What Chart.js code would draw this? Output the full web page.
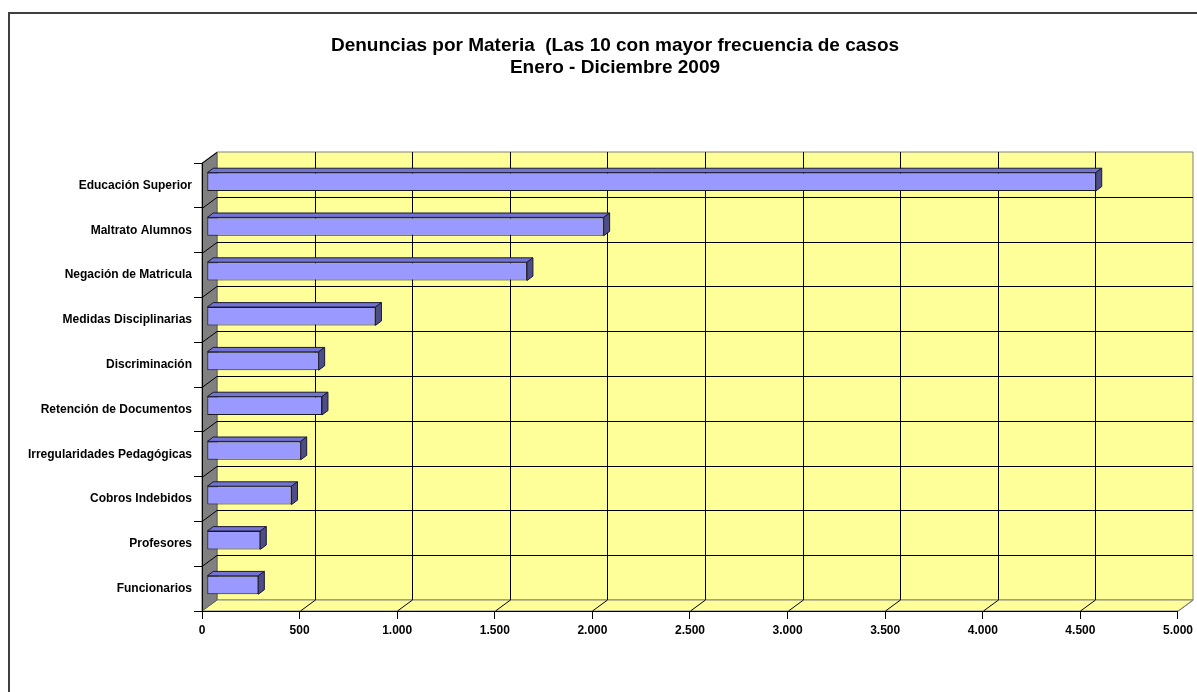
<!DOCTYPE html>
<html>
<head>
<meta charset="utf-8">
<script src="https://cdn.jsdelivr.net/npm/chart.js@4/dist/chart.umd.min.js"></script>
<style>
  html, body { margin: 0; padding: 0; background: #fff; }
  #wrap { width: 1197px; height: 692px; position: relative; }
</style>
</head>
<body>
<div id="wrap"><canvas id="myChart"></canvas></div>
<script>
// data
const materias = [
  'Educación Superior',
  'Maltrato Alumnos',
  'Negación de Matricula',
  'Medidas Disciplinarias',
  'Discriminación',
  'Retención de Documentos',
  'Irregularidades Pedagógicas',
  'Cobros Indebidos',
  'Profesores',
  'Funcionarios'
]
const denuncias = [4554, 2033, 1640, 864, 573, 590, 481, 434, 274, 264]
const tituloLineas = [
  'Denuncias por Materia  (Las 10 con mayor frecuencia de casos',
  'Enero - Diciembre 2009'
]
const ejeMin = 0
const ejeMax = 5000
const ejePaso = 500

// 3d look: wall depth and bar depth (oblique offsets)
const WX = 15, WY = -11
const FX = 4.8, FY = -3.6
const BX = 6, BY = -4.4
// title is centred a bit right of the canvas middle
const TITLE_SHIFT = 51

const FONT = "'Liberation Sans', Arial, sans-serif"

const fmt = (v) => String(v).replace(/\B(?=(\d{3})+(?!\d))/g, '.')

function line(ctx, x1, y1, x2, y2) {
  ctx.beginPath()
  ctx.moveTo(x1, y1)
  ctx.lineTo(x2, y2)
  ctx.stroke()
}

function poly(ctx, pts, fill, stroke) {
  ctx.beginPath()
  ctx.moveTo(pts[0][0], pts[0][1])
  for (let i = 1; i < pts.length; i++) ctx.lineTo(pts[i][0], pts[i][1])
  ctx.closePath()
  ctx.fillStyle = fill
  ctx.fill()
  if (stroke) {
    ctx.strokeStyle = stroke
    ctx.stroke()
  }
}

const walls3d = {
  id: 'walls3d',
  afterLayout(chart) {
    if (chart.titleBlock) chart.titleBlock.left += TITLE_SHIFT
  },
  beforeDraw(chart) {
    const {ctx, chartArea: a, scales} = chart
    const xs = scales.x, ys = scales.y
    ctx.save()
    ctx.fillStyle = '#fff'
    ctx.fillRect(0, 0, chart.width, chart.height)

    // outer frame
    ctx.strokeStyle = '#404040'
    ctx.lineWidth = 2
    ctx.strokeRect(9, 13, chart.width + 20, chart.height + 20)

    ctx.lineWidth = 1
    // back wall
    poly(ctx, [[a.left + WX, a.top + WY], [a.right + WX, a.top + WY],
      [a.right + WX, a.bottom + WY], [a.left + WX, a.bottom + WY]], '#ffff99', '#808080')
    // floor
    poly(ctx, [[a.left, a.bottom], [a.left + WX, a.bottom + WY],
      [a.right + WX, a.bottom + WY], [a.right, a.bottom]], '#ffff99', '#808080')
    // side wall
    poly(ctx, [[a.left, a.top], [a.left + WX, a.top + WY],
      [a.left + WX, a.bottom + WY], [a.left, a.bottom]], '#808080', '#606060')

    ctx.strokeStyle = '#000'
    // vertical grid on back wall + floor diagonals
    for (let v = ejeMin; v <= ejeMax; v += ejePaso) {
      const px = Math.round(xs.getPixelForValue(v)) + 0.5
      if (v > ejeMin && v < ejeMax) line(ctx, px + WX, a.top + WY, px + WX, a.bottom + WY)
      if (v > ejeMin) {
        ctx.strokeStyle = v === ejeMax ? '#808080' : '#000'
        line(ctx, px, a.bottom, px + WX, a.bottom + WY)
        ctx.strokeStyle = '#000'
      }
    }
    // horizontal grid on back wall + side wall diagonals
    for (let i = 0; i <= materias.length; i++) {
      const py = Math.round(ys.getPixelForValue(i - 0.5)) + 0.5
      if (i > 0 && i < materias.length) line(ctx, a.left + WX, py + WY, a.right + WX, py + WY)
      if (i < materias.length) line(ctx, a.left, py, a.left + WX, py + WY)
    }
    ctx.restore()
  },
  beforeDatasetsDraw(chart) {
    chart.ctx.save()
    chart.ctx.translate(FX, FY)
  },
  afterDatasetsDraw(chart) {
    const ctx = chart.ctx
    ctx.lineWidth = 1
    chart.getDatasetMeta(0).data.forEach((bar) => {
      const p = bar.getProps(['x', 'y', 'base', 'height'], true)
      const top = p.y - p.height / 2, bottom = p.y + p.height / 2
      const r = p.x
      // top face
      poly(ctx, [[p.base, top], [p.base + BX, top + BY], [r + BX, top + BY], [r, top]], '#7373d6', '#1a1a33')
      // right face
      poly(ctx, [[r, top], [r + BX, top + BY], [r + BX, bottom + BY], [r, bottom]], '#4d4d88', '#1a1a33')
    })
    ctx.restore()
  }
}

const chartRef = document.getElementById('myChart').getContext('2d')

new Chart(chartRef, {
  type: 'bar',
  data: {
    labels: materias,
    datasets: [
      {
        label: 'Denuncias',
        data: denuncias,
        backgroundColor: '#9999ff',
        borderColor: '#1a1a1a',
        borderWidth: 1,
        borderSkipped: false,
        barPercentage: 0.41,
        categoryPercentage: 1
      }
    ]
  },
  options: {
    indexAxis: 'y',
    responsive: true,
    maintainAspectRatio: false,
    animation: false,
    devicePixelRatio: 1,
    layout: { padding: { left: 0, right: 18, top: 0, bottom: 51 } },
    plugins: {
      legend: { display: false },
      tooltip: { enabled: false },
      title: {
        display: true,
        text: tituloLineas,
        color: '#000',
        font: { family: FONT, size: 19, weight: 'bold', lineHeight: 1.158 },
        padding: { top: 35, bottom: 84 }
      }
    },
    scales: {
      x: {
        min: ejeMin,
        max: ejeMax,
        afterFit: (s) => { s.height = 30 },
        grid: { drawOnChartArea: false, drawTicks: true, tickLength: 8, color: '#000' },
        border: { display: true, color: '#000', width: 1 },
        ticks: {
          stepSize: ejePaso,
          color: '#000',
          padding: 4,
          maxRotation: 0,
          font: { family: FONT, size: 12, weight: 'bold' },
          callback: (v) => fmt(v)
        }
      },
      y: {
        afterFit: (s) => { s.width = 202 },
        grid: { drawOnChartArea: false, drawTicks: true, tickLength: 8, color: '#000', offset: true },
        border: { display: true, color: '#000', width: 1 },
        ticks: {
          color: '#000',
          padding: 2,
          autoSkip: false,
          font: { family: FONT, size: 12, weight: 'bold' }
        }
      }
    }
  },
  plugins: [walls3d]
})
</script>
</body>
</html>
